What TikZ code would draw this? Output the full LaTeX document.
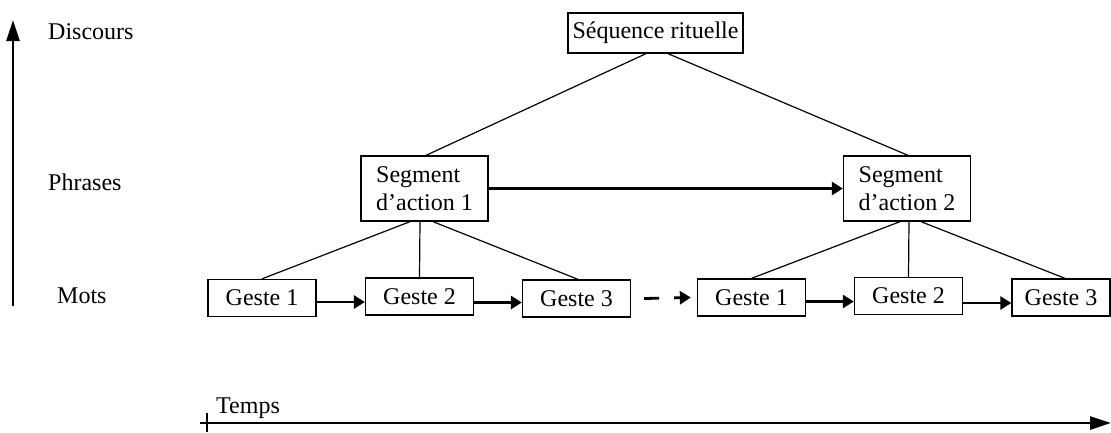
\documentclass[tikz,border=0pt]{standalone}
\usepackage{fontspec}
\setmainfont{Liberation Serif}
\usetikzlibrary{arrows.meta,calc}

\begin{document}
\begin{tikzpicture}[x=1pt,y=-1pt,
    every node/.style={font=\fontsize{24}{28}\selectfont},
    box/.style={draw,line width=1.3pt,inner sep=0pt},
    geste/.style={box,minimum width=108pt,minimum height=37pt},
    segment/.style={box,minimum width=127pt,minimum height=65pt,align=left},
    niveau/.style={anchor=base west,inner sep=0pt},
    lien/.style={line width=1.2pt},
    flow/.style={line width=2.8pt,-{Triangle[length=11pt,width=13pt]}},
    axe/.style={line width=2.8pt,-{Triangle[length=21pt,width=13pt]}}]
  \useasboundingbox (0,0) rectangle (1111,432);

  \coordinate (bas) at (13,306);
  \coordinate (haut) at (13,20);
  \draw[axe] (bas) -- (haut);
  \node[niveau] (discours) at (48,39) {Discours};
  \node[niveau] (phrases) at (48,190) {Phrases};
  \node[niveau] (mots) at (57,303) {Mots};

  \node[box,minimum width=175pt,minimum height=40pt] (seq) at (655.5,33) {Séquence rituelle};
  \node[segment] (seg1) at (424.5,188.5) {Segment\\d’action 1};
  \node[segment] (seg2) at (907,188.5) {Segment\\d’action 2};

  \node[geste] (g1a) at (262,298) {Geste 1};
  \node[geste] (g2a) at (419.5,296.5) {Geste 2};
  \node[geste] (g3a) at (576.5,298.5) {Geste 3};
  \node[geste] (g1b) at (751.5,297.5) {Geste 1};
  \node[geste] (g2b) at (908.5,296) {Geste 2};
  \node[geste,minimum width=98pt] (g3b) at (1061,297.5) {Geste 3};

  \draw[lien] ($(seq.south)+(-9.5,0)$) -- ($(seg1.north)+(1.5,0)$);
  \draw[lien] ($(seq.south)+(12.5,0)$) -- ($(seg2.north)+(1,0)$);
  \draw[lien] ($(seg1.south)+(-14.5,0)$) -- (g1a.north);
  \draw[lien] ($(seg1.south)+(-4.5,0)$) -- (g2a.north);
  \draw[lien] ($(seg1.south)+(8.5,0)$) -- ($(g3a.north)+(1.5,0)$);
  \draw[lien] ($(seg2.south)+(-7,0)$) -- (g1b.north);
  \draw[lien] ($(seg2.south)+(2,0)$) -- (g2b.north);
  \draw[lien] ($(seg2.south)+(14,0)$) -- ($(g3b.north)+(4,0)$);

  \draw[flow] (seg1.east) -- (seg2.west);
  \draw[flow] ($(g1a.east)+(0,4)$) -- ($(g1a.east -| g2a.west)+(0,4)$);
  \draw[flow] ($(g2a.east)+(0,6)$) -- ($(g2a.east -| g3a.west)+(0,6)$);
  \draw[flow,dash pattern=on 15pt off 15pt] ($(g3a.east)+(13,0)$) -- ($(g1b.west)+(-6,0)$);
  \draw[flow] ($(g1b.east)+(0,4)$) -- ($(g1b.east -| g2b.west)+(0,4)$);
  \draw[flow] ($(g2b.east)+(0,7)$) -- ($(g2b.east -| g3b.west)+(0,7)$);

  \coordinate (t0) at (200,423);
  \coordinate (t1) at (1111,423);
  \coordinate (tick0) at (207,413);
  \coordinate (tick1) at (207,432);
  \draw[axe] (t0) -- (t1);
  \draw[line width=2.8pt] (tick0) -- (tick1);
  \node[niveau] (temps) at (216,413) {Temps};
\end{tikzpicture}
\end{document}
